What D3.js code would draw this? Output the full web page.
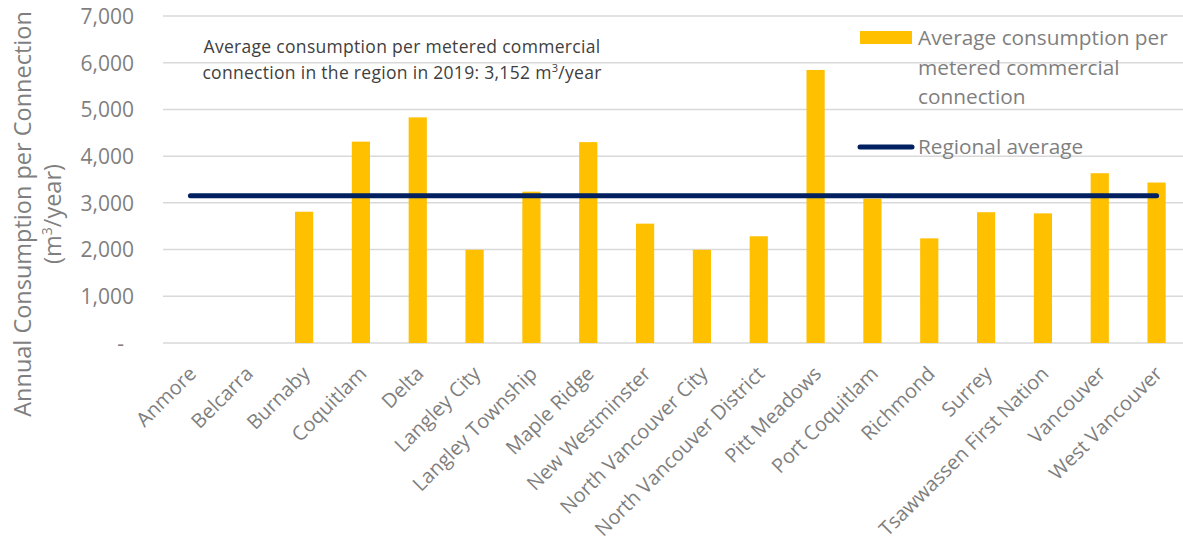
<!DOCTYPE html>
<html><head><meta charset="utf-8">
<script src="https://cdn.jsdelivr.net/npm/d3@7"></script>
<style>body{margin:0;background:#fff}svg{display:block}text{font-family:"Open Sans","Noto Sans",sans-serif}</style>
</head><body><svg id="c" width="1183" height="546"></svg>
<script>
const categories = ["Anmore","Belcarra","Burnaby","Coquitlam","Delta","Langley City","Langley Township","Maple Ridge","New Westminster","North Vancouver City","North Vancouver District","Pitt Meadows","Port Coquitlam","Richmond","Surrey","Tsawwassen First Nation","Vancouver","West Vancouver"];
const values = [null,null,2810,4310,4830,1995,3240,4300,2555,1995,2285,5845,3090,2240,2800,2775,3635,3435];
const regionalAverage = 3152;
const yTicks = [0,1000,2000,3000,4000,5000,6000,7000];
const seriesName = ["Average consumption per","metered commercial","connection"];
const lineName = "Regional average";
const annotation = ["Average consumption per metered commercial","connection in the region in 2019: 3,152 m","3","/year"];
const yTitle = ["Annual Consumption per Connection","(m","3","/year)"];

const svg = d3.select("#c");
const x = d3.scaleBand().domain(categories).range([162,1185]).paddingInner(0.68).paddingOuter(0.34);
const y = d3.scaleLinear().domain([0,7000]).range([343,16]);
const gray = "#7f7f7f";

// gridlines
svg.append("g").selectAll("line").data(yTicks).join("line")
  .attr("x1",163).attr("x2",1183).attr("y1",d=>y(d)).attr("y2",d=>y(d))
  .attr("stroke","#d9d9d9").attr("stroke-width",1.5);

// y tick labels
const yAxis = d3.axisLeft(y).tickValues(yTicks).tickSize(0).tickPadding(0)
  .tickFormat(d=> d===0 ? "-" : d3.format(",")(d));
const ga = svg.append("g").attr("transform","translate(134,0)").call(yAxis);
ga.select(".domain").remove();
ga.selectAll("text").attr("fill",gray).attr("font-size",21).attr("font-family","\"Open Sans\",sans-serif").attr("dy","0.35em")
  .attr("dx", d=> d===0 ? -10 : 0);

// bars
svg.append("g").selectAll("rect").data(categories.map((c,i)=>({c,v:values[i]})).filter(d=>d.v!=null)).join("rect")
  .attr("x",d=>x(d.c)).attr("width",x.bandwidth())
  .attr("y",d=>y(d.v)).attr("height",d=>y(0)-y(d.v))
  .attr("fill","#FFC000");

// regional average line
svg.append("line")
  .attr("x1",x(categories[0])+x.bandwidth()/2).attr("x2",x(categories[categories.length-1])+x.bandwidth()/2)
  .attr("y1",y(regionalAverage)).attr("y2",y(regionalAverage))
  .attr("stroke","#002060").attr("stroke-width",5).attr("stroke-linecap","round");

// x labels
svg.append("g").selectAll("text").data(categories).join("text")
  .attr("transform",d=>`translate(${x(d)+x.bandwidth()/2+7},${375}) rotate(-45)`)
  .attr("text-anchor","end").attr("fill",gray).attr("font-size",20).text(d=>d);

// y title
const yt = svg.append("g").attr("transform","translate(0,214) rotate(-90)");
yt.append("text").attr("x",0).attr("y",31).attr("text-anchor","middle").attr("fill",gray).attr("font-size",23.5).text(yTitle[0]);
const t2 = yt.append("text").attr("x",0).attr("y",61).attr("text-anchor","middle").attr("fill",gray).attr("font-size",23.5);
t2.append("tspan").text(yTitle[1]);
t2.append("tspan").attr("font-size",14).attr("dy",-9).text(yTitle[2]);
t2.append("tspan").attr("dy",9).text(yTitle[3]);

// annotation
const an = svg.append("g");
an.append("text").attr("x",402).attr("y",53).attr("text-anchor","middle").attr("fill","#404040").attr("font-size",17.5).attr("letter-spacing",0.3).text(annotation[0]);
const a2 = an.append("text").attr("x",402).attr("y",79).attr("text-anchor","middle").attr("fill","#404040").attr("font-size",17.5).attr("letter-spacing",0.3);
a2.append("tspan").text(annotation[1]);
a2.append("tspan").attr("font-size",11).attr("dy",-7).text(annotation[2]);
a2.append("tspan").attr("dy",7).text(annotation[3]);

// legend
const lg = svg.append("g");
lg.append("rect").attr("x",860).attr("y",31).attr("width",52).attr("height",13).attr("fill","#FFC000");
seriesName.forEach((s,i)=>{
  lg.append("text").attr("x",918).attr("y",45+i*29.5).attr("fill",gray).attr("font-size",20.8).text(s);
});
lg.append("line").attr("x1",860).attr("x2",912).attr("y1",147).attr("y2",147)
  .attr("stroke","#002060").attr("stroke-width",5).attr("stroke-linecap","round");
lg.append("text").attr("x",918).attr("y",154).attr("fill",gray).attr("font-size",20.8).text(lineName);
</script></body></html>
